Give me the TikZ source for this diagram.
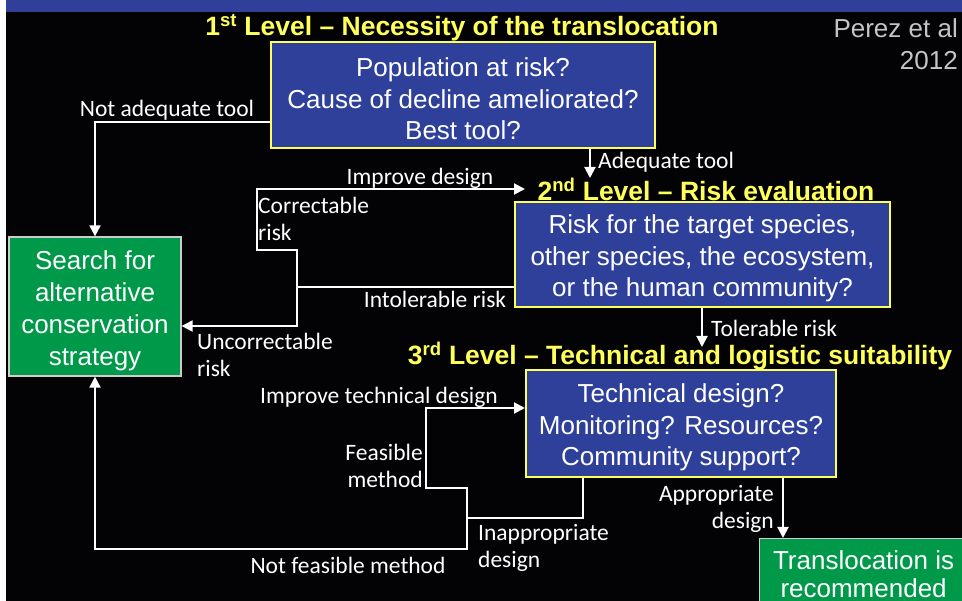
\documentclass[tikz,border=0pt]{standalone}
\usepackage{fontspec}
\setmainfont{Liberation Sans}
\newfontfamily\labelfont{Carlito}
\usepackage{xcolor}
\usepackage{tikz}
\usetikzlibrary{arrows.meta, positioning, calc}
\definecolor{slidebg}{HTML}{030305}
\definecolor{barblue}{HTML}{2F3F9A}
\definecolor{boxblue}{HTML}{2F409B}
\definecolor{hiyellow}{HTML}{FFFF5A}
\definecolor{okgreen}{HTML}{00994A}
\definecolor{citegray}{HTML}{C4C4C4}
\newcommand{\topgap}{\rule{0pt}{27pt}}
\tikzstyle{question} = [rectangle, draw=hiyellow, line width=2pt, fill=boxblue, text=white, align=center, inner sep=0pt, font=\fontsize{26}{31.5}\selectfont]
\tikzstyle{outcome} = [rectangle, draw=gray!40, line width=1.2pt, fill=okgreen, text=white, align=center, inner sep=0pt, font=\fontsize{26}{32}\selectfont]
\tikzstyle{heading} = [text=hiyellow, inner sep=0pt, font=\bfseries\fontsize{26.5}{30}\selectfont]
\tikzstyle{remark} = [text=white, inner sep=0pt, font=\labelfont\fontsize{23.5}{27}\selectfont]
\tikzstyle{flow} = [white, line width=2pt, -{Triangle[length=11pt,width=11pt]}]
\tikzstyle{link} = [white, line width=2pt]

\begin{document}
\begin{tikzpicture}[x=1pt, y=-1pt]
    \clip (0,0) rectangle (962,601);

    % Slide background
    \fill[white] (0,0) rectangle (962,601);
    \fill[slidebg] (6,12) rectangle (962,601);
    \fill[barblue] (6,0) rectangle (962,12);

    % Level headings
    \node (head1) [heading] at (462,28) {1\textsuperscript{st} Level – Necessity of the translocation};
    \node (head2) [heading] at (706,189) {2\textsuperscript{nd} Level – Risk evaluation};
    \node (head3) [heading] at (680,356) {3\textsuperscript{rd} Level – Technical and logistic suitability};
    \node (cite) [text=citegray, align=right, anchor=north east, inner sep=0pt, font=\fontsize{26}{32}\selectfont] at (958,18) {Perez et al\\2012};

    % Questions
    \node (tier1) [question, minimum width=384pt, minimum height=106pt] at (463,95) {\topgap Population at risk?\\Cause of decline ameliorated?\\Best tool?};
    \node (tier2) [question, minimum width=375pt, minimum height=105pt] at (702.5,254.5) {\topgap Risk for the target species,\\other species, the ecosystem,\\or the human community?};
    \node (tier3) [question, minimum width=310pt, minimum height=107pt] at (681,423.5) {\topgap Technical design?\\Monitoring? Resources?\\Community support?};

    % Outcomes
    \node (search) [outcome, minimum width=172pt, minimum height=139pt] at (95,306.5) {\topgap Search for\\alternative\\conservation\\strategy};
    \node (recom) [outcome, anchor=north west, minimum width=208pt, minimum height=72pt, font=\fontsize{26}{28}\selectfont] at (759,538) {Translocation is\\recommended};

    % Bend points
    \coordinate (notadq) at (95,122);
    \coordinate (adq) at (590,178);
    \coordinate (rsplit) at (297,287);
    \coordinate (rleft) at (257,250);
    \coordinate (rtip) at (525,189);
    \coordinate (rdown) at (297,326);
    \coordinate (tol) at (702,347);
    \coordinate (inap) at (583,518);
    \coordinate (split3) at (467,518);
    \coordinate (fmcorner) at (426,488);
    \coordinate (itd) at (426,408);
    \coordinate (nfm) at (95,549);
    \coordinate (appr) at (783,537);

    % Level 1 decisions
    \draw [flow] (tier1.west |- notadq) -- (notadq) -- (search.north);
    \draw [flow] (tier1.south -| adq) -- (adq);

    % Level 2 decisions
    \draw [flow] (tier2.west |- rsplit) -- (rsplit) |- (rleft) |- (rtip);
    \draw [flow] (rsplit) |- (search.east |- rdown);
    \draw [flow] (tier2.south -| tol) -- (tol);

    % Level 3 decisions
    \draw [link] (tier3.south -| inap) -- (inap) -- (split3);
    \draw [flow] (split3) |- (fmcorner) |- (tier3.west |- itd);
    \draw [flow] (split3) |- (nfm) -- (search.south);
    \draw [flow] (tier3.south -| appr) -- (recom.north -| appr);

    % Labels
    \node (lnotadq) [remark] at (167,110) {Not adequate tool};
    \node (ladq) [remark, anchor=west] at (598,162) {Adequate tool};
    \node (limp) [remark] at (420,178) {Improve design};
    \node (lcorr) [remark, anchor=west, align=left] at (258,218.5) {Correctable\\risk};
    \node (lintol) [remark] at (435,299) {Intolerable risk};
    \node (luncorr) [remark, anchor=west, align=left] at (197,354.5) {Uncorrectable\\risk};
    \node (ltol) [remark, anchor=west] at (711,328) {Tolerable risk};
    \node (limptech) [remark] at (379,397) {Improve technical design};
    \node (lfeas) [remark, anchor=east, align=right] at (423,466) {Feasible\\method};
    \node (linap) [remark, anchor=west, align=left] at (478,548) {Inappropriate\\design};
    \node (lnotfeas) [remark] at (348,565) {Not feasible method};
    \node (lappr) [remark, anchor=east, align=right] at (774,509) {Appropriate\\design};

\end{tikzpicture}
\end{document}
